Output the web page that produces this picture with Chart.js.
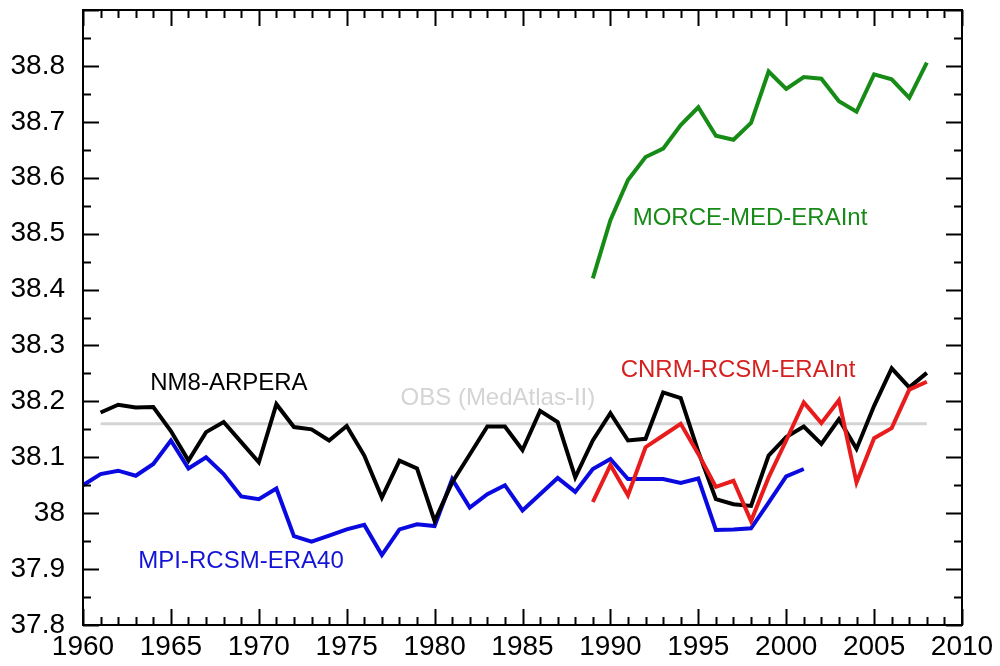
<!DOCTYPE html>
<html>
<head>
<meta charset="utf-8">
<title>Salinity time series</title>
<script src="https://cdn.jsdelivr.net/npm/chart.js@4/dist/chart.umd.min.js"></script>
<style>
    html, body { margin: 0; padding: 0; background: #fff; }
    canvas { display: block; }
</style>
</head>
<body>
<canvas id="salinityChart" width="1000" height="666"></canvas>
<script>
// Years for each run
const nm8Years = [];
for (let y = 1961; y <= 2008; y++) nm8Years.push(y);
const mpiYears = [];
for (let y = 1960; y <= 2001; y++) mpiYears.push(y);
const eraIntYears = [];
for (let y = 1989; y <= 2008; y++) eraIntYears.push(y);

const nm8Values = [
    38.180, 38.194, 38.189, 38.190, 38.147, 38.094, 38.145, 38.163, 38.127, 38.091,
    38.195, 38.154, 38.150, 38.130, 38.156, 38.103, 38.028, 38.094, 38.080, 37.986,
    38.055, 38.105, 38.155, 38.155, 38.113, 38.183, 38.163, 38.064, 38.130, 38.179,
    38.130, 38.133, 38.216, 38.206, 38.110, 38.025, 38.016, 38.013, 38.103, 38.136,
    38.155, 38.124, 38.168, 38.115, 38.192, 38.259, 38.225, 38.251
];
const mpiValues = [
    38.050, 38.070, 38.076, 38.067, 38.088, 38.130, 38.080, 38.100, 38.070, 38.030,
    38.025, 38.044, 37.959, 37.949, 37.960, 37.971, 37.979, 37.925, 37.971, 37.980,
    37.977, 38.061, 38.010, 38.034, 38.050, 38.005, 38.034, 38.063, 38.038, 38.079,
    38.097, 38.061, 38.061, 38.061, 38.054, 38.062, 37.970, 37.971, 37.973, 38.019,
    38.066, 38.079
];
const cnrmValues = [
    38.020, 38.086, 38.032, 38.118, 38.139, 38.160, 38.106, 38.047, 38.058, 37.986,
    38.064, 38.130, 38.198, 38.161, 38.202, 38.055, 38.134, 38.152, 38.221, 38.235
];
const morceValues = [
    38.420, 38.524, 38.596, 38.637, 38.652, 38.694, 38.726, 38.675, 38.668, 38.698,
    38.790, 38.759, 38.780, 38.777, 38.737, 38.718, 38.785, 38.776, 38.743, 38.806
];
const obsYears = [1961, 2008];
const obsValue = 38.16;

const xTicks = [1960, 1965, 1970, 1975, 1980, 1985, 1990, 1995, 2000, 2005, 2010];
const yTicks = [37.8, 37.9, 38.0, 38.1, 38.2, 38.3, 38.4, 38.5, 38.6, 38.7, 38.8];

// Series labels, placed in data coordinates
const seriesLabels = [
    { text: 'NM8-ARPERA', x: 1968.3, y: 38.233, color: '#000000' },
    { text: 'OBS (MedAtlas-II)', x: 1983.6, y: 38.206, color: '#d4d4d4' },
    { text: 'CNRM-RCSM-ERAInt', x: 1997.26, y: 38.256, color: '#d61f1f' },
    { text: 'MORCE-MED-ERAInt', x: 1997.94, y: 38.528, color: '#188a18' },
    { text: 'MPI-RCSM-ERA40', x: 1968.99, y: 37.913, color: '#1414d6' }
];

const FONT = '"Liberation Sans", Arial, Helvetica, sans-serif';

const toPoints = (xs, ys) => xs.map((x, i) => ({ x: x, y: ys[i] }));

// Inward tick marks on all four sides, plus the frame and the text labels
const framePlugin = {
    id: 'frame',
    afterDraw: (chart) => {
        const ctx = chart.ctx;
        const area = chart.chartArea;
        const xs = chart.scales.x;
        const ys = chart.scales.y;
        const major = 16, minor = 8;

        ctx.save();
        ctx.strokeStyle = '#000';
        ctx.lineWidth = 2;
        ctx.beginPath();
        for (let yr = xs.min; yr <= xs.max; yr++) {
            const px = Math.round(xs.getPixelForValue(yr)) + 0.5;
            const len = xTicks.includes(yr) ? major : minor;
            ctx.moveTo(px, area.bottom);
            ctx.lineTo(px, area.bottom - len);
            ctx.moveTo(px, area.top);
            ctx.lineTo(px, area.top + len);
        }
        for (let i = 0; i <= 22; i++) {
            const v = ys.min + i * 0.05;
            const py = Math.round(ys.getPixelForValue(v)) + 0.5;
            const len = i % 2 === 0 ? major : minor;
            ctx.moveTo(area.left, py);
            ctx.lineTo(area.left + len, py);
            ctx.moveTo(area.right, py);
            ctx.lineTo(area.right - len, py);
        }
        ctx.stroke();
        ctx.strokeRect(area.left, area.top, area.right - area.left, area.bottom - area.top);

        ctx.font = '24px ' + FONT;
        ctx.textAlign = 'center';
        ctx.textBaseline = 'middle';
        seriesLabels.forEach(l => {
            ctx.fillStyle = l.color;
            ctx.fillText(l.text, xs.getPixelForValue(l.x), ys.getPixelForValue(l.y));
        });
        ctx.restore();
    }
};

const lineStyle = (color, width) => ({
    borderColor: color,
    backgroundColor: color,
    borderWidth: width,
    pointRadius: 0,
    tension: 0,
    fill: false
});

const ctx = document.getElementById('salinityChart').getContext('2d');
new Chart(ctx, {
    type: 'line',
    data: {
        datasets: [
            { label: 'CNRM-RCSM-ERAInt', data: toPoints(eraIntYears, cnrmValues), ...lineStyle('#e81c1c', 4) },
            { label: 'NM8-ARPERA', data: toPoints(nm8Years, nm8Values), ...lineStyle('#000000', 4) },
            { label: 'MPI-RCSM-ERA40', data: toPoints(mpiYears, mpiValues), ...lineStyle('#0a0ae0', 4) },
            { label: 'MORCE-MED-ERAInt', data: toPoints(eraIntYears, morceValues), ...lineStyle('#168c16', 4) },
            { label: 'OBS (MedAtlas-II)', data: toPoints(obsYears, obsYears.map(() => obsValue)), ...lineStyle('#d4d4d4', 3) }
        ]
    },
    options: {
        responsive: false,
        animation: false,
        layout: { padding: { top: 10, right: 38, left: 0, bottom: 0 } },
        plugins: {
            legend: { display: false },
            tooltip: { enabled: false }
        },
        scales: {
            x: {
                type: 'linear',
                min: 1960,
                max: 2010,
                grid: { display: false },
                border: { display: false },
                afterFit: (scale) => {
                    scale.height = 41;
                    scale.paddingLeft = 0;
                    scale.paddingRight = 0;
                },
                afterBuildTicks: (scale) => { scale.ticks = xTicks.map(v => ({ value: v })); },
                ticks: {
                    color: '#000',
                    font: { family: FONT, size: 28 },
                    padding: -3,
                    maxRotation: 0,
                    autoSkip: false,
                    callback: (v) => String(v)
                }
            },
            y: {
                type: 'linear',
                min: 37.8,
                max: 38.9,
                grid: { display: false },
                border: { display: false },
                afterFit: (scale) => {
                    scale.width = 83;
                    scale.paddingTop = 0;
                    scale.paddingBottom = 0;
                },
                afterBuildTicks: (scale) => { scale.ticks = yTicks.map(v => ({ value: v })); },
                ticks: {
                    color: '#000',
                    font: { family: FONT, size: 28 },
                    padding: 10,
                    autoSkip: false,
                    callback: (v) => String(Number(v.toFixed(1)))
                }
            }
        }
    },
    plugins: [framePlugin]
});
</script>
</body>
</html>
